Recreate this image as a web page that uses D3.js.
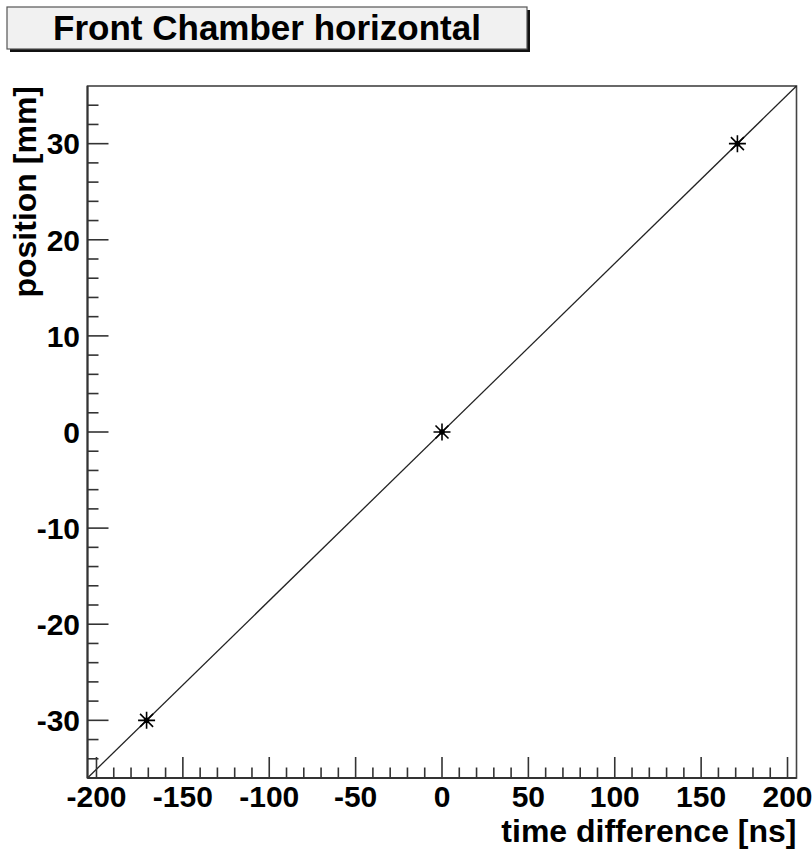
<!DOCTYPE html>
<html>
<head>
<meta charset="utf-8">
<script src="https://cdn.jsdelivr.net/npm/d3@7"></script>
<style>
  html, body { margin: 0; padding: 0; background: #fff; }
  svg { display: block; }
  text { font-family: "Liberation Sans", Arial, Helvetica, sans-serif; font-weight: bold; fill: #000; }
</style>
</head>
<body>
<script>
// Calibration points: measured time difference vs. known wire position
const timeDiff = [-171, 0, 171];     // ns
const position = [-30, 0, 30];       // mm

const xTickValues = [-200, -150, -100, -50, 0, 50, 100, 150, 200];
const yTickValues = [-30, -20, -10, 0, 10, 20, 30];

const titleText = "Front Chamber horizontal";
const xTitle = "time difference [ns]";
const yTitle = "position [mm]";

const W = 812, H = 851;
const frame = { left: 87.5, right: 796.5, top: 86, bottom: 778 };

const svg = d3.select("body").append("svg")
  .attr("width", W).attr("height", H);

// Axis ranges padded by 10% of the data span on each side
const [x0, x1] = d3.extent(timeDiff);
const [y0, y1] = d3.extent(position);
const dx = x1 - x0, dy = y1 - y0;

const x = d3.scaleLinear()
  .domain([x0 - 0.1 * dx, x1 + 0.1 * dx])
  .range([frame.left, frame.right]);
const y = d3.scaleLinear()
  .domain([y0 - 0.1 * dy, y1 + 0.1 * dy])
  .range([frame.bottom, frame.top]);

// Frame
svg.append("rect")
  .attr("x", frame.left).attr("y", frame.top)
  .attr("width", frame.right - frame.left)
  .attr("height", frame.bottom - frame.top)
  .attr("fill", "#fff").attr("stroke", "#444").attr("stroke-width", 1.6);

// Linear least-squares fit through the points
const mx = d3.mean(timeDiff), my = d3.mean(position);
const slope = d3.sum(timeDiff, (t, i) => (t - mx) * (position[i] - my)) /
              d3.sum(timeDiff, t => (t - mx) * (t - mx));
const intercept = my - slope * mx;
const fitX = x.domain();
svg.append("path")
  .datum(fitX.map(t => [t, slope * t + intercept]))
  .attr("d", d3.line().x(d => x(d[0])).y(d => y(d[1])))
  .attr("fill", "none").attr("stroke", "#222").attr("stroke-width", 1.3);

// Ticks (inward, ROOT style)
const xMinor = d3.range(-200, 201, 10);
const yMinor = d3.range(-34, 35, 2);

const ticks = svg.append("g").attr("stroke", "#333").attr("stroke-width", 1.6);
ticks.selectAll(".xt").data(xMinor).enter().append("line")
  .attr("x1", d => x(d)).attr("x2", d => x(d))
  .attr("y1", frame.bottom)
  .attr("y2", d => frame.bottom - (d % 50 === 0 ? 21 : 10.5));
ticks.selectAll(".yt").data(yMinor).enter().append("line")
  .attr("y1", d => y(d)).attr("y2", d => y(d))
  .attr("x1", frame.left)
  .attr("x2", d => frame.left + (d % 10 === 0 ? 21 : 11));

// Axis lines
svg.append("line")
  .attr("x1", frame.left).attr("x2", frame.right)
  .attr("y1", frame.bottom).attr("y2", frame.bottom)
  .attr("stroke", "#333").attr("stroke-width", 2);
svg.append("line")
  .attr("x1", frame.left).attr("x2", frame.left)
  .attr("y1", frame.top).attr("y2", frame.bottom)
  .attr("stroke", "#333").attr("stroke-width", 2);

// Tick labels
svg.selectAll(".xl").data(xTickValues).enter().append("text")
  .attr("x", d => x(d)).attr("y", 807)
  .attr("text-anchor", "middle")
  .style("font-size", "30px")
  .text(d => d);
svg.selectAll(".yl").data(yTickValues).enter().append("text")
  .attr("x", 80).attr("y", d => y(d))
  .attr("dy", "0.36em")
  .attr("text-anchor", "end")
  .style("font-size", "30px")
  .text(d => d);

// Axis titles
svg.append("text")
  .attr("x", frame.right).attr("y", 842)
  .attr("text-anchor", "end")
  .style("font-size", "32px")
  .text(xTitle);
svg.append("text")
  .attr("transform", `translate(36,${frame.top}) rotate(-90)`)
  .attr("text-anchor", "end")
  .style("font-size", "32px")
  .text(yTitle);

// Asterisk markers
const r = 8.5, rd = 6.5;
const star = `M${-r},0L${r},0M0,${-r}L0,${r}M${-rd},${-rd}L${rd},${rd}M${-rd},${rd}L${rd},${-rd}`;
svg.selectAll(".pt").data(timeDiff).enter().append("path")
  .attr("transform", (d, i) => `translate(${x(d)},${y(position[i])})`)
  .attr("d", star)
  .attr("fill", "none").attr("stroke", "#000").attr("stroke-width", 1.6);
svg.selectAll(".pc").data(timeDiff).enter().append("circle")
  .attr("cx", d => x(d)).attr("cy", (d, i) => y(position[i]))
  .attr("r", 2.8).attr("fill", "#000");

// Title box with drop shadow
const box = { x: 7, y: 7, w: 520, h: 42 };
svg.append("rect")
  .attr("x", box.x + 3).attr("y", box.y + 3)
  .attr("width", box.w).attr("height", box.h)
  .attr("fill", "#111");
svg.append("rect")
  .attr("x", box.x).attr("y", box.y)
  .attr("width", box.w).attr("height", box.h)
  .attr("fill", "#f1f1f1").attr("stroke", "#555").attr("stroke-width", 1.2);
svg.append("text")
  .attr("x", box.x + box.w / 2).attr("y", 40)
  .attr("text-anchor", "middle")
  .style("font-size", "35px")
  .text(titleText);
</script>
</body>
</html>
